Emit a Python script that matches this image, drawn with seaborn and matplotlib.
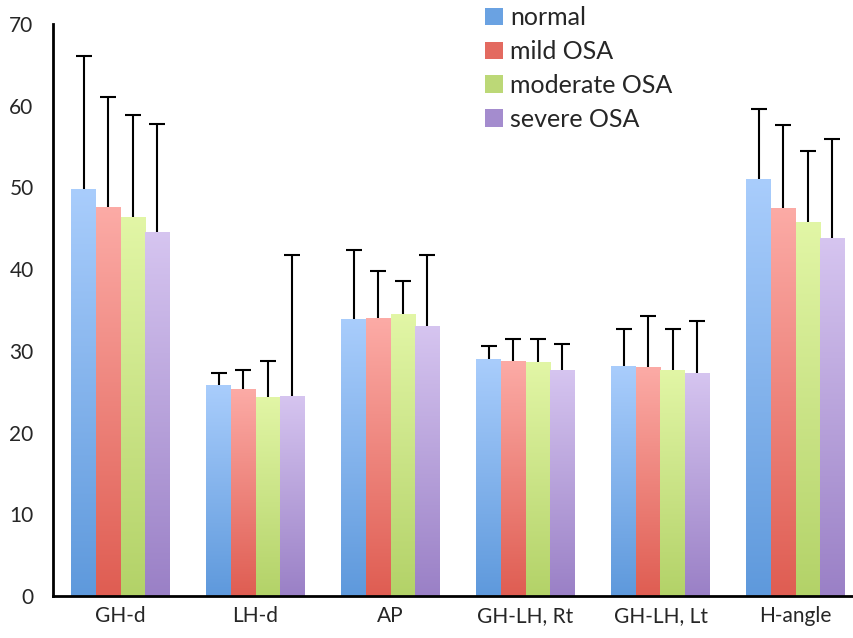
import numpy as np
import pandas as pd
import matplotlib
matplotlib.use("Agg")
import matplotlib.pyplot as plt
from matplotlib.colors import LinearSegmentedColormap
from matplotlib.patches import Patch
import seaborn as sns

# 测量项目与分组
categories = ["GH-d", "LH-d", "AP", "GH-LH, Rt", "GH-LH, Lt", "H-angle"]
groups = ["normal", "mild OSA", "moderate OSA", "severe OSA"]

# 各组均值（按 categories 顺序）
normal_mean = [49.8, 25.8, 33.9, 29.0, 28.1, 51.0]
mild_mean = [47.6, 25.3, 34.0, 28.7, 28.0, 47.5]
moderate_mean = [46.4, 24.4, 34.5, 28.6, 27.7, 45.8]
severe_mean = [44.6, 24.5, 33.1, 27.7, 27.3, 43.8]

# 各组标准差（只画上半部分）
normal_sd = [16.3, 1.5, 8.5, 1.6, 4.6, 8.6]
mild_sd = [13.5, 2.3, 5.8, 2.8, 6.3, 10.2]
moderate_sd = [12.5, 4.4, 4.1, 2.8, 5.0, 8.7]
severe_sd = [13.2, 17.2, 8.6, 3.2, 6.3, 12.1]

y_ticks = [0, 10, 20, 30, 40, 50, 60, 70]

# 渐变色：上浅下深
top_colors = ["#a9cdfc", "#fcaba6", "#e2f6a6", "#d6c5f0"]
bottom_colors = ["#5e99dc", "#df5d52", "#b3d268", "#9a80c6"]
legend_colors = ["#6aa2e2", "#e36a60", "#bcd877", "#a48cce"]

means = [normal_mean, mild_mean, moderate_mean, severe_mean]
sds = [normal_sd, mild_sd, moderate_sd, severe_sd]

rows = []
for g, m, s in zip(groups, means, sds):
    for c, mv, sv in zip(categories, m, s):
        rows.append({"category": c, "group": g, "mean": mv, "sd": sv})
df = pd.DataFrame(rows)

sns.set_style("white")
plt.rcParams["font.family"] = ["Lato", "DejaVu Sans"]

fig = plt.figure(figsize=(8.54, 6.38), dpi=100)
ax = fig.add_axes([53 / 854, 42 / 638, 810 / 854, 572 / 638])

sns.barplot(data=df, x="category", y="mean", hue="group", order=categories,
            hue_order=groups, width=0.73, errorbar=None, legend=False,
            palette=legend_colors, ax=ax, zorder=2)

bar_containers = list(ax.containers)[:len(groups)]
grad = np.linspace(1, 0, 256).reshape(-1, 1)
for gi, cont in enumerate(bar_containers):
    cmap = LinearSegmentedColormap.from_list(
        "g%d" % gi, [bottom_colors[gi], top_colors[gi]])
    xs, tops = [], []
    for patch in cont:
        x0 = patch.get_x()
        w = patch.get_width()
        h = patch.get_height()
        patch.set_facecolor("none")
        patch.set_edgecolor("none")
        im = ax.imshow(grad, cmap=cmap, aspect="auto", vmin=0, vmax=1,
                       extent=[x0, x0 + w, 0, h], zorder=2)
        im.set_clip_path(patch)
        xs.append(x0 + w / 2)
        tops.append(h)
    sd = sds[gi]
    eb = ax.errorbar(xs, tops, yerr=[np.zeros(len(sd)), sd], fmt="none",
                     ecolor="black", elinewidth=1.5, capsize=6, capthick=1.5,
                     zorder=3)
    eb[1][0].set_visible(False)

ax.set_xlim(-0.5, len(categories) - 0.5)
ax.set_ylim(0, 70)
ax.set_yticks(y_ticks)
ax.set_xticks(range(len(categories)))
ax.set_xticklabels(categories, fontsize=15)
ax.set_xticks(np.arange(-0.5, len(categories) - 1, 1.0), minor=True)
ax.tick_params(axis="x", which="major", length=0, pad=7)
ax.tick_params(axis="x", which="minor", length=6, width=2, direction="out")
ax.tick_params(axis="y", length=6, width=2, direction="out", labelsize=15,
               pad=8)
ax.set_xlabel("")
ax.set_ylabel("")

for side in ["top", "right"]:
    ax.spines[side].set_visible(False)
for side in ["left", "bottom"]:
    ax.spines[side].set_linewidth(2)
    ax.spines[side].set_color("black")

handles = [Patch(facecolor=c, edgecolor="none") for c in legend_colors]
ax.legend(handles, groups, loc="upper left", bbox_to_anchor=(0.506, 1.07),
          frameon=False, fontsize=18, handlelength=0.7, handleheight=0.7,
          handletextpad=0.3, labelspacing=0.43)

fig.savefig("out.png", dpi=100)
